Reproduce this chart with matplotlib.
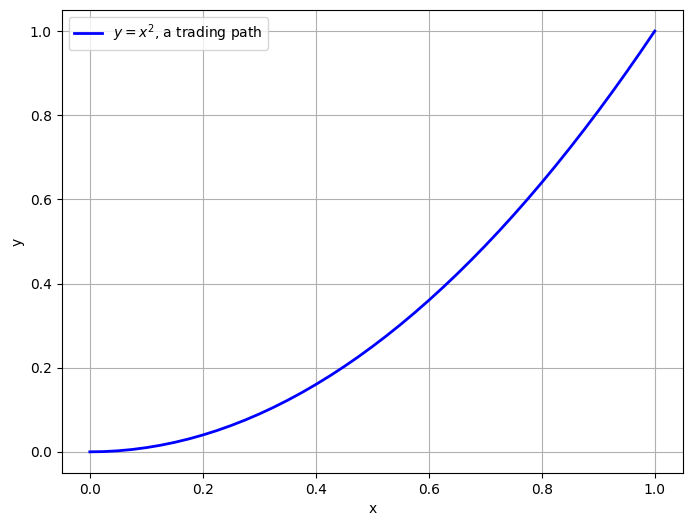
import numpy as np
import matplotlib
matplotlib.use("Agg")
import matplotlib.pyplot as plt

# points
x_vals = [0.0, 0.025, 0.05, 0.075, 0.1, 0.125, 0.15, 0.175, 0.2, 0.225, 0.25,
          0.275, 0.3, 0.325, 0.35, 0.375, 0.4, 0.425, 0.45, 0.475, 0.5,
          0.525, 0.55, 0.575, 0.6, 0.625, 0.65, 0.675, 0.7, 0.725, 0.75,
          0.775, 0.8, 0.825, 0.85, 0.875, 0.9, 0.925, 0.95, 0.975, 1.0]
y_vals = [0.0, 0.0006, 0.0025, 0.0056, 0.01, 0.0156, 0.0225, 0.0306, 0.04, 0.0506, 0.0625,
          0.0756, 0.09, 0.1056, 0.1225, 0.1406, 0.16, 0.1806, 0.2025, 0.2256, 0.25,
          0.2756, 0.3025, 0.3306, 0.36, 0.3906, 0.4225, 0.4556, 0.49, 0.5256, 0.5625,
          0.6006, 0.64, 0.6806, 0.7225, 0.7656, 0.81, 0.8556, 0.9025, 0.9506, 1.0]
series_label = r'$y = x^2$, a trading path'

fig, ax = plt.subplots(figsize=(6.92, 5.26), dpi=100)
plt.subplots_adjust(left=0.089, right=0.987, top=0.981, bottom=0.101)

ax.plot(x_vals, y_vals, color='blue', linewidth=2, label=series_label)
ax.set_xlabel('x')
ax.set_ylabel('y')
ax.grid(True)
ax.legend(loc='upper left')

fig.savefig('out.png')
